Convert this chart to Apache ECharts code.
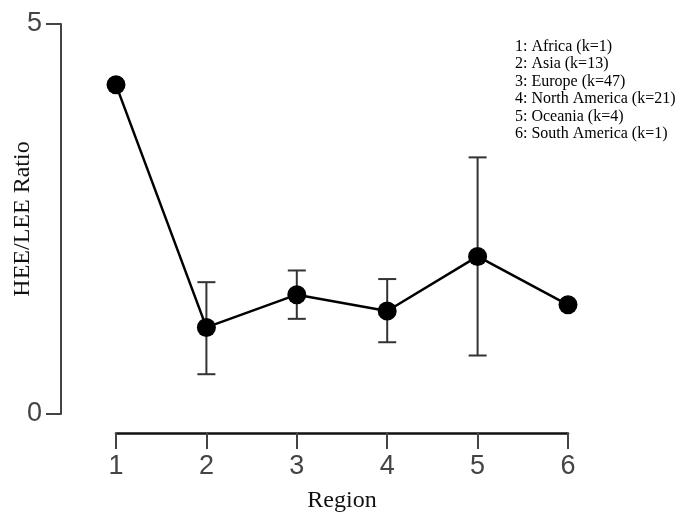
<!DOCTYPE html>
<html>
<head>
<meta charset="utf-8">
<script src="https://cdn.jsdelivr.net/npm/echarts@6/dist/echarts.min.js"></script>
<style>html,body{margin:0;padding:0;background:#fff}#c{width:685px;height:518px}</style>
</head>
<body>
<div id="c"></div>
<script>
var regions = [1, 2, 3, 4, 5, 6];
var ratios = [4.22, 1.11, 1.53, 1.32, 2.02, 1.40];
var errLow = [null, 0.51, 1.22, 0.92, 0.75, null];
var errHigh = [null, 1.69, 1.84, 1.73, 3.29, null];
var legendLines = ['1: Africa (k=1)', '2: Asia (k=13)', '3: Europe (k=47)', '4: North America (k=21)', '5: Oceania (k=4)', '6: South America (k=1)'];

var chart = echarts.init(document.getElementById('c'));
var lineData = regions.map(function (r, i) { return [r, ratios[i]]; });
var errData = [];
regions.forEach(function (r, i) {
  if (errLow[i] != null) errData.push([r, errLow[i], errHigh[i]]);
});

chart.setOption({
  animation: false,
  grid: { left: 116, right: 117, top: 24, bottom: 104, containLabel: false, outerBoundsMode: 'none' },
  xAxis: {
    type: 'value', min: 1, max: 6, interval: 1,
    offset: 19,
    name: 'Region', nameLocation: 'middle', nameGap: 56, nameMoveOverlap: false,
    nameTextStyle: { fontFamily: 'Liberation Serif', fontSize: 24, color: '#111' },
    axisLine: { show: true, onZero: false, lineStyle: { color: '#111', width: 2.5 } },
    axisTick: { show: true, length: 16, lineStyle: { color: '#444', width: 2 } },
    axisLabel: { fontFamily: 'Liberation Sans', fontSize: 27, color: '#444', margin: 20 },
    splitLine: { show: false }
  },
  yAxis: {
    type: 'value', min: 0, max: 5, interval: 5,
    offset: 55,
    name: 'HEE/LEE Ratio', nameLocation: 'middle', nameGap: 26, nameMoveOverlap: false,
    nameTextStyle: { fontFamily: 'Liberation Serif', fontSize: 24, color: '#111' },
    axisLine: { show: true, onZero: false, lineStyle: { color: '#444', width: 2 } },
    axisTick: { show: true, length: 15, lineStyle: { color: '#444', width: 2 } },
    axisLabel: { fontFamily: 'Liberation Sans', fontSize: 27, color: '#444', margin: 19 },
    splitLine: { show: false }
  },
  graphic: [{
    type: 'text', left: 515, top: 38,
    style: { text: legendLines.join('\n'), fontFamily: 'Liberation Serif', fontSize: 16, lineHeight: 17.5, fill: '#000' }
  }],
  series: [{
    type: 'custom',
    data: errData,
    z: 1,
    renderItem: function (params, api) {
      var x = api.value(0);
      var lo = api.coord([x, api.value(1)]);
      var hi = api.coord([x, api.value(2)]);
      var hw = 9;
      var st = { stroke: '#333', lineWidth: 2 };
      return { type: 'group', children: [
        { type: 'line', shape: { x1: lo[0], y1: lo[1], x2: hi[0], y2: hi[1] }, style: st },
        { type: 'line', shape: { x1: lo[0] - hw, y1: lo[1], x2: lo[0] + hw, y2: lo[1] }, style: st },
        { type: 'line', shape: { x1: hi[0] - hw, y1: hi[1], x2: hi[0] + hw, y2: hi[1] }, style: st }
      ] };
    }
  }, {
    type: 'line',
    data: lineData,
    z: 3,
    symbol: 'circle', symbolSize: 19,
    lineStyle: { color: '#000', width: 2.5 },
    itemStyle: { color: '#000' }
  }]
});
</script>
</body>
</html>
